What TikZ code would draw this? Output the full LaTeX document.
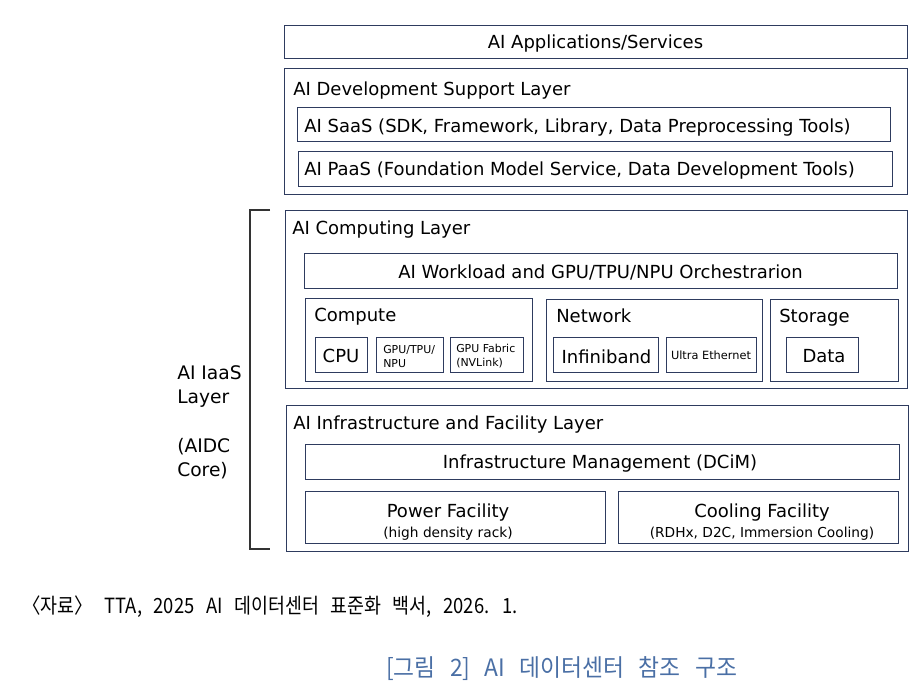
\documentclass[tikz,border=0pt]{standalone}
\usepackage{fontspec}
\setmainfont{DejaVu Sans}
\newfontfamily\krfont[FakeStretch=0.88, WordSpace=2.8]{Noto Sans CJK KR}
\newfontfamily\krcapfont[FakeStretch=0.95, WordSpace=2.8]{Noto Sans CJK KR}
\usetikzlibrary{calc}
\newdimen\px \px=0.75pt
\definecolor{boxline}{HTML}{2E3B5E}
\definecolor{capblue}{HTML}{4A6FA5}
\tikzset{
  box/.style={draw=boxline, line width=1.2\px, anchor=north west, inner sep=0pt},
  big/.style={font=\fontsize{13.5}{16}\selectfont, inner sep=0pt},
  small/.style={font=\fontsize{8.2}{10.3}\selectfont, inner sep=0pt, align=left},
  sub/.style={font=\fontsize{10.3}{12}\selectfont, inner sep=0pt},
}

\begin{document}
\begin{tikzpicture}[x=1\px, y=-1\px]
		%%%%% START %%%%%
		\useasboundingbox (0,0) rectangle (922,689);
		
		% top
		\node[box, minimum width=623\px, minimum height=33\px] (appsbox) at (284,25) {};
		\node[big, anchor=base] (apps) at (595.5,48) {AI Applications/Services};
		
		% development support layer
		\node[box, minimum width=623\px, minimum height=126\px] (devbox) at (284,68) {};
		\node[big, anchor=base west] (devtitle) at (293,95) {AI Development Support Layer};
		\node[box, minimum width=593\px, minimum height=34\px] (saasbox) at (297,107) {};
		\node[big, anchor=base west] (saas) at (304,132) {AI SaaS (SDK, Framework, Library, Data Preprocessing Tools)};
		\node[box, minimum width=594\px, minimum height=35\px] (paasbox) at (298,151) {};
		\node[big, anchor=base west] (paas) at (304,175) {AI PaaS (Foundation Model Service, Data Development Tools)};
		
		% computing layer
		\node[box, minimum width=622\px, minimum height=178\px] (compbox) at (285,210) {};
		\node[big, anchor=base west] (comptitle) at (292,234) {AI Computing Layer};
		\node[box, minimum width=593\px, minimum height=35\px] (workbox) at (304,253) {};
		\node[big, anchor=base] (work) at (600.5,278) {AI Workload and GPU/TPU/NPU Orchestrarion};
		
		\node[box, minimum width=227\px, minimum height=83\px] (cpubox) at (305,298) {};
		\node[big, anchor=base west] (cputitle) at (314,321) {Compute};
		\node[box, minimum width=52\px, minimum height=35\px] (cpu) at (315,337) {};
		\node[big, anchor=base] (cputext) at (341,362) {CPU};
		\node[box, minimum width=67\px, minimum height=35\px] (gpu) at (376,337) {};
		\node[small, anchor=north west] (gputext) at (383,345) {GPU/TPU/\\NPU};
		\node[box, minimum width=73\px, minimum height=35\px] (fabric) at (450,337) {};
		\node[small, anchor=north west] (fabrictext) at (456,344) {GPU Fabric\\(NVLink)};
		
		\node[box, minimum width=216\px, minimum height=82\px] (netbox) at (546,299) {};
		\node[big, anchor=base west] (nettitle) at (556,322) {Network};
		\node[box, minimum width=105\px, minimum height=35\px] (ib) at (553,337) {};
		\node[big, anchor=base] (ibtext) at (606.5,363) {Infiniband};
		\node[box, minimum width=90\px, minimum height=35\px] (ue) at (666,337) {};
		\node[small, font=\fontsize{8.5}{10}\selectfont, anchor=base] (uetext) at (711,359) {Ultra Ethernet};
		
		\node[box, minimum width=128\px, minimum height=82\px] (stobox) at (770,299) {};
		\node[big, anchor=base west] (stotitle) at (779,322) {Storage};
		\node[box, minimum width=72\px, minimum height=35\px] (data) at (786,337) {};
		\node[big, anchor=base] (datatext) at (824,362) {Data};
		
		% infrastructure and facility layer
		\node[box, minimum width=622\px, minimum height=146\px] (infrabox) at (286,405) {};
		\node[big, anchor=base west] (infratitle) at (293,429) {AI Infrastructure and Facility Layer};
		\node[box, minimum width=594\px, minimum height=35\px] (dcimbox) at (305,444) {};
		\node[big, anchor=base] (dcim) at (600,468) {Infrastructure Management (DCiM)};
		\node[box, minimum width=300\px, minimum height=52\px] (powerbox) at (305,491) {};
		\node[big, anchor=base] (power) at (448,517) {Power Facility};
		\node[sub, anchor=base] (powersub) at (448,537) {(high density rack)};
		\node[box, minimum width=280\px, minimum height=52\px] (coolbox) at (618,491) {};
		\node[big, anchor=base] (cool) at (762,517) {Cooling Facility};
		\node[sub, anchor=base] (coolsub) at (762,537) {(RDHx, D2C, Immersion Cooling)};
		
		% bracket
		\draw[line width=1.2\px, black!80] (270,210) -- (250,210) -- (250,549) -- (270,549);
		\node[big, font=\fontsize{14}{18}\selectfont, align=left, anchor=north west] (iaas) at (177,365) {AI IaaS\\Layer\\[19pt](AIDC\\Core)};
		
		% source and caption
		\node[anchor=base west, inner sep=0pt, font=\krfont\fontsize{15.7}{18}\selectfont] (source) at (22,613) {〈자료〉 TTA, 2025 AI 데이터센터 표준화 백서, 2026. 1.};
		\node[anchor=base west, inner sep=0pt, text=capblue, font=\krcapfont\fontsize{18}{21}\selectfont] (caption) at (386,676) {[그림 2] AI 데이터센터 참조 구조};
		%%%%% END %%%%%
\end{tikzpicture}
\end{document}
